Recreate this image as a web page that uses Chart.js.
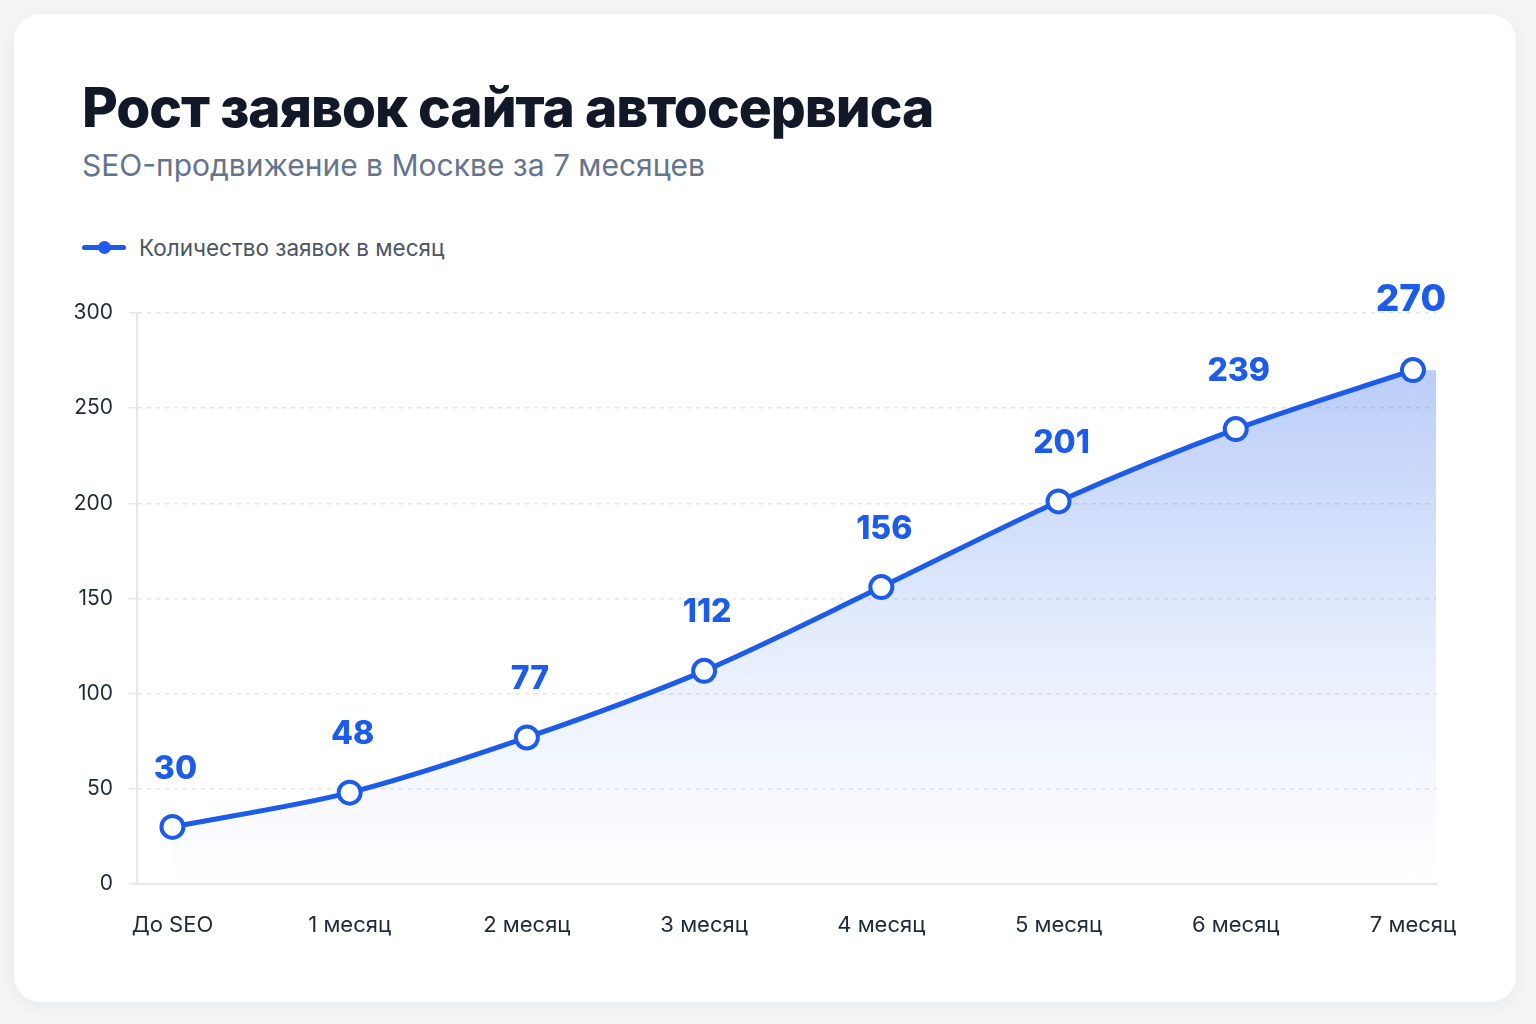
<!DOCTYPE html>
<html lang="ru">
<head>
    <meta charset="UTF-8">
    <title>Рост заявок сайта автосервиса</title>
    <script src="https://cdn.jsdelivr.net/npm/chart.js"></script>
    <style>
        html, body { margin: 0; padding: 0; background: #f4f5f7; }
        body { width: 1536px; height: 1024px; position: relative; overflow: hidden; font-family: Inter, "Noto Sans", sans-serif; }
        .card {
            position: absolute; left: 14px; top: 14px; width: 1502px; height: 988px;
            background: #fff; border-radius: 26px;
            box-shadow: 0 4px 18px rgba(15, 23, 42, 0.06);
        }
        h1 {
            position: absolute; left: 68px; top: 60px; margin: 0;
            font-size: 55px; font-weight: 800; color: #111827; letter-spacing: -1px; white-space: nowrap;
        }
        .sub {
            position: absolute; left: 68px; top: 133px; margin: 0;
            font-size: 30px; color: #64748b; white-space: nowrap;
        }
        .legend {
            position: absolute; left: 68px; top: 220px; display: flex; align-items: center;
            font-size: 22.5px; color: #4b5563;
        }
        .legend .mark { position: relative; width: 44px; height: 5px; background: #1d5bea; border-radius: 3px; margin-right: 13px; }
        .legend .mark::after {
            content: ""; position: absolute; left: 16px; top: -4px; width: 13px; height: 13px;
            border-radius: 50%; background: #1d5bea;
        }
        .wrap { position: absolute; left: 20px; top: 270px; width: 1490px; height: 690px; }
    </style>
</head>
<body>
<div class="card">
    <h1>Рост заявок сайта автосервиса</h1>
    <p class="sub">SEO-продвижение в Москве за 7 месяцев</p>
    <div class="legend"><span class="mark"></span><span id="legendText"></span></div>
</div>
<div class="wrap"><canvas id="chart"></canvas></div>

<script>
    const seriesName = 'Количество заявок в месяц';
    const months = ['До SEO', '1 месяц', '2 месяц', '3 месяц', '4 месяц', '5 месяц', '6 месяц', '7 месяц'];
    const requests = [30, 48, 77, 112, 156, 201, 239, 270];
    const yTicks = [0, 50, 100, 150, 200, 250, 300];

    const blue = '#1d5bea';
    document.getElementById('legendText').textContent = seriesName;

    function areaGradient(chart) {
        const { ctx, chartArea, scales } = chart;
        if (!chartArea) return 'rgba(29,91,234,0.25)';
        const top = scales.y.getPixelForValue(Math.max(...requests));
        const g = ctx.createLinearGradient(0, top, 0, chartArea.bottom);
        g.addColorStop(0, 'rgba(29,91,234,0.30)');
        g.addColorStop(0.6, 'rgba(29,91,234,0.09)');
        g.addColorStop(1, 'rgba(29,91,234,0.0)');
        return g;
    }

    // заливка справа от последней точки до края области и подписи значений
    const extras = {
        id: 'extras',
        beforeDatasetsDraw(chart) {
            const meta = chart.getDatasetMeta(0);
            const last = meta.data[meta.data.length - 1];
            const { ctx, chartArea } = chart;
            ctx.save();
            ctx.fillStyle = areaGradient(chart);
            ctx.fillRect(last.x, last.y, chartArea.right - last.x, chartArea.bottom - last.y);
            ctx.restore();
        },
        afterDatasetsDraw(chart) {
            const meta = chart.getDatasetMeta(0);
            const { ctx } = chart;
            const lastIdx = meta.data.length - 1;
            ctx.save();
            ctx.fillStyle = blue;
            ctx.textAlign = 'center';
            ctx.textBaseline = 'middle';
            meta.data.forEach((pt, i) => {
                const isLast = i === lastIdx;
                ctx.font = '800 ' + (isLast ? 37 : 32) + 'px Inter, "Noto Sans", sans-serif';
                ctx.fillText(String(requests[i]), pt.x + (isLast ? -2 : 3), pt.y - (isLast ? 70 : 58));
            });
            ctx.restore();
        }
    };

    new Chart(document.getElementById('chart'), {
        type: 'line',
        data: {
            datasets: [{
                label: seriesName,
                data: requests.map((v, i) => ({ x: i, y: v })),
                borderColor: blue,
                borderWidth: 5,
                backgroundColor: ctx => areaGradient(ctx.chart),
                fill: 'origin',
                tension: 0.3,
                pointRadius: 11,
                pointBorderWidth: 4,
                pointBackgroundColor: '#fff',
                pointBorderColor: blue,
                pointHoverRadius: 11
            }]
        },
        plugins: [extras],
        options: {
            responsive: true,
            maintainAspectRatio: false,
            animation: false,
            clip: false,
            layout: { padding: { top: 43, right: 74, bottom: 10, left: 0 } },
            plugins: {
                legend: { display: false },
                tooltip: { enabled: false }
            },
            scales: {
                x: {
                    type: 'linear',
                    min: -0.2,
                    max: 7.13,
                    afterBuildTicks: axis => { axis.ticks = months.map((_, i) => ({ value: i })); },
                    afterFit: axis => { axis.height = 66; },
                    ticks: {
                        callback: v => months[v] ?? '',
                        color: '#1f2937',
                        font: { family: 'Inter', size: 22 },
                        padding: 20,
                        maxRotation: 0,
                        autoSkip: false
                    },
                    grid: { display: false },
                    border: { color: '#e5e7eb', width: 2 }
                },
                y: {
                    min: 0,
                    max: 300,
                    afterBuildTicks: axis => { axis.ticks = yTicks.map(v => ({ value: v })); },
                    afterFit: axis => { axis.width = 117; },
                    ticks: {
                        color: '#1f2937',
                        font: { family: 'Inter', size: 21 },
                        padding: 16
                    },
                    grid: { color: '#e2e5ea', lineWidth: 1.5, tickLength: 8 },
                    border: { color: '#e5e7eb', width: 2, dash: [4, 5] }
                }
            }
        }
    });
</script>
</body>
</html>
